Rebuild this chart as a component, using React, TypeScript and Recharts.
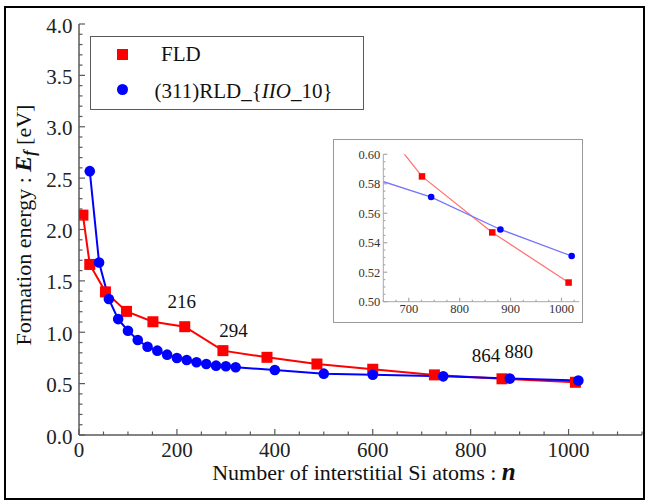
import React from 'react';
import { LineChart, Line, XAxis, YAxis, Legend, ReferenceDot, Label } from 'recharts';

// ---------- data ----------
const fldN = [8, 22, 54, 97, 151, 216, 294, 384, 486, 600, 726, 864, 1014];
const fldE = [2.14, 1.66, 1.393, 1.203, 1.102, 1.054, 0.821, 0.756, 0.691, 0.64, 0.585, 0.547, 0.513];
const rldN = [22, 41, 61, 80, 100, 120, 140, 160, 180, 200, 220, 240, 260, 280, 300, 320, 400, 500, 600, 744, 880, 1020];
const rldE = [2.568, 1.679, 1.323, 1.128, 1.015, 0.924, 0.859, 0.821, 0.782, 0.75, 0.73, 0.708, 0.691, 0.675, 0.669, 0.659, 0.633, 0.597, 0.587, 0.571, 0.549, 0.531];

const annotN = [216, 294, 864, 880];
const annotE = [1.054, 0.821, 0.547, 0.549];
const annotText = ['216', '294', '864', '880'];

const xMajor = [0, 200, 400, 600, 800, 1000];
const yMajor = [0, 0.5, 1, 1.5, 2, 2.5, 3, 3.5, 4];
const insetXMajor = [700, 800, 900, 1000];
const insetYMajor = [0.5, 0.52, 0.54, 0.56, 0.58, 0.6];

const fldData = fldN.map((n, i) => ({ n, e: fldE[i] }));
const rldData = rldN.map((n, i) => ({ n, e: rldE[i] }));

// ---------- styles ----------
const SERIF = '"Liberation Serif", "DejaVu Serif", serif';
const FRAME = '#5a5a5a';
const INSET_FRAME = '#a8a8a8';
const annotOffset: Record<string, [number, number]> = {
  '216': [-3, -18.5],
  '294': [10.5, -14],
  '864': [-16, -17],
  '880': [9, -21],
};

const steps = (a: number, b: number, s: number) => {
  const out: number[] = [];
  for (let v = a; v <= b + 1e-9; v += s) out.push(Math.round(v * 1e6) / 1e6);
  return out;
};
const isMajor = (v: number, majors: number[]) => majors.some((m) => Math.abs(m - v) < 1e-6);

const xTicks = steps(0, 1150, 50);
const yTicks = steps(0, 4, 0.1);
const insetXTicks = steps(650, 1035, 25).filter((v) => v >= 650);
const insetYTicks = steps(0.5, 0.6, 0.005);

type TickOpts = {
  side: 'left' | 'right' | 'top' | 'bottom';
  majors: number[];
  fmt?: (v: number) => string;
  major: number;
  minor: number;
  color: string;
  fontSize: number;
  textColor: string;
  labelGap: number;
  labelDy: number;
  label: boolean;
};

const makeTick = (o: TickOpts) => (props: any) => {
  const { x, y, payload } = props;
  const v = payload.value as number;
  const mj = isMajor(v, o.majors);
  const len = mj ? o.major : o.minor;
  let line;
  if (o.side === 'left') line = <line x1={x} x2={x + len} y1={y} y2={y} />;
  else if (o.side === 'right') line = <line x1={x} x2={x - len} y1={y} y2={y} />;
  else if (o.side === 'bottom') line = <line x1={x} x2={x} y1={y} y2={y - len} />;
  else line = <line x1={x} x2={x} y1={y} y2={y + len} />;
  let text = null;
  if (o.label && mj && o.fmt) {
    if (o.side === 'left')
      text = (
        <text x={x - o.labelGap} y={y + o.labelDy} textAnchor="end" fontFamily={SERIF} fontSize={o.fontSize} fill={o.textColor}>
          {o.fmt(v)}
        </text>
      );
    else if (o.side === 'bottom')
      text = (
        <text x={x} y={y + o.labelDy} textAnchor="middle" fontFamily={SERIF} fontSize={o.fontSize} fill={o.textColor}>
          {o.fmt(v)}
        </text>
      );
  }
  return (
    <g>
      <g stroke={o.color} strokeWidth={1.2}>{line}</g>
      {text}
    </g>
  );
};

const mainTickBase = { major: 6, minor: 3.5, color: FRAME, fontSize: 21, textColor: '#222', labelGap: 6.5, label: true };
const bottomTick = makeTick({ ...mainTickBase, side: 'bottom', majors: xMajor, fmt: (v) => String(v), labelDy: 22 });
const topTick = makeTick({ ...mainTickBase, side: 'top', majors: xMajor, labelDy: 0, label: false });
const leftTick = makeTick({ ...mainTickBase, side: 'left', majors: yMajor, fmt: (v) => v.toFixed(1), labelDy: 8.5 });
const rightTick = makeTick({ ...mainTickBase, side: 'right', majors: yMajor, labelDy: 0, label: false });

const insetBase = { major: 4, minor: 2, color: INSET_FRAME, fontSize: 12.5, textColor: '#333', labelGap: 3, label: true };
const insetBottom = makeTick({ ...insetBase, side: 'bottom', majors: insetXMajor, fmt: (v) => String(v), labelDy: 11.5 });
const insetTop = makeTick({ ...insetBase, side: 'top', majors: insetXMajor, labelDy: 0, label: false });
const insetLeft = makeTick({ ...insetBase, side: 'left', majors: insetYMajor, fmt: (v) => v.toFixed(2), labelDy: 4.5 });
const insetRight = makeTick({ ...insetBase, side: 'right', majors: insetYMajor, labelDy: 0, label: false });

const squareDot = (size: number, fill: string) => (p: any) => {
  if (p.cx == null || p.cy == null) return <g key={p.key} />;
  return <rect key={p.key} x={p.cx - size / 2} y={p.cy - size / 2} width={size} height={size} fill={fill} />;
};
const circleDot = (r: number, fill: string) => (p: any) => {
  if (p.cx == null || p.cy == null) return <g key={p.key} />;
  return <circle key={p.key} cx={p.cx} cy={p.cy} r={r} fill={fill} />;
};

const LegendBox = () => (
  <div style={{ width: 274, height: 74, border: `1.5px solid ${FRAME}`, boxSizing: 'border-box', background: '#fff' }}>
    <svg width={271} height={71} style={{ display: 'block' }}>
      <rect x={31.5 - 5.5} y={17.5 - 5.5} width={11} height={11} fill="#ff0000" />
      <text x={70} y={24} fontFamily={SERIF} fontSize={21} fill="#111">FLD</text>
      <circle cx={31.5} cy={52.5} r={5.5} fill="#0000ff" />
      <text x={63.5} y={60.5} fontFamily={SERIF} fontSize={21} fill="#111">
        (311)RLD_{'{'}
        <tspan fontStyle="italic">IIO</tspan>_10{'}'}
      </text>
    </svg>
  </div>
);

const YLabel = (props: any) => {
  const cx = 31;
  const cy = 225;
  return (
    <text transform={`translate(${cx},${cy}) rotate(-90)`} textAnchor="middle" fontFamily={SERIF} fontSize={22} fill="#111">
      Formation energy : <tspan fontWeight="bold" fontStyle="italic" fontSize={24}>E</tspan>
      <tspan fontStyle="italic" fontWeight="bold" fontSize={16} dy={4}>f</tspan>
      <tspan dy={-4}> [eV]</tspan>
    </text>
  );
};

const XLabel = (props: any) => (
  <text x={364} y={480} textAnchor="middle" fontFamily={SERIF} fontSize={22} fill="#111">
    Number of interstitial Si atoms : <tspan fontWeight="bold" fontStyle="italic" fontSize={25}>n</tspan>
  </text>
);

const annotLabel = (t: string) => (p: any) => {
  const vb = p.viewBox || {};
  const [dx, dy] = annotOffset[t];
  return (
    <text x={vb.x + dx} y={vb.y + dy} textAnchor="middle" fontFamily={SERIF} fontSize={19} fill="#111">
      {t}
    </text>
  );
};

export default function App() {
  return (
    <div style={{ position: 'absolute', left: 0, top: 0, width: 649, height: 504, background: '#fff' }}>
      <LineChart width={649} height={504} margin={{ top: 24, right: 7, left: 19, bottom: 39 }}>
        <XAxis
          xAxisId={0}
          type="number"
          dataKey="n"
          domain={[0, 1150]}
          ticks={xTicks}
          interval={0}
          tickSize={0}
          tickMargin={0}
          tick={bottomTick}
          axisLine={{ stroke: FRAME, strokeWidth: 1.5 }}
          height={30}
          allowDataOverflow
        >
          <Label content={XLabel} />
        </XAxis>
        <XAxis
          xAxisId="top"
          orientation="top"
          type="number"
          dataKey="n"
          domain={[0, 1150]}
          ticks={xTicks}
          interval={0}
          tickSize={0}
          tickMargin={0}
          tick={topTick}
          axisLine={{ stroke: FRAME, strokeWidth: 1.5 }}
          height={0}
          allowDataOverflow
        />
        <YAxis
          yAxisId={0}
          type="number"
          domain={[0, 4]}
          ticks={yTicks}
          interval={0}
          tickSize={0}
          tickMargin={0}
          tick={leftTick}
          axisLine={{ stroke: FRAME, strokeWidth: 1.5 }}
          width={60}
          allowDataOverflow
        >
          <Label content={YLabel} />
        </YAxis>
        <YAxis
          yAxisId="right"
          orientation="right"
          type="number"
          domain={[0, 4]}
          ticks={yTicks}
          interval={0}
          tickSize={0}
          tickMargin={0}
          tick={rightTick}
          axisLine={{ stroke: FRAME, strokeWidth: 1.5 }}
          width={0}
          allowDataOverflow
        />
        <Legend
          layout="horizontal"
          verticalAlign="middle"
          align="center"
          content={LegendBox}
          wrapperStyle={{ left: 90, top: 36, width: 274, height: 74, margin: 0 }}
        />
        <Line
          data={fldData}
          dataKey="e"
          name="FLD"
          stroke="#ff0000"
          strokeWidth={2}
          dot={squareDot(11, '#ff0000')}
          isAnimationActive={false}
        />
        <Line
          data={rldData}
          dataKey="e"
          name="(311)RLD_{IIO_10}"
          stroke="#0000ff"
          strokeWidth={2}
          dot={circleDot(5.3, '#0000ff')}
          isAnimationActive={false}
        />
        {annotText.map((t, i) => (
          <ReferenceDot key={t} x={annotN[i]} y={annotE[i]} r={0} fill="none" stroke="none" label={annotLabel(t)} />
        ))}
      </LineChart>

      {/* inset */}
      <div
        style={{
          position: 'absolute',
          left: 333,
          top: 139,
          width: 250,
          height: 184,
          border: '1px solid #999',
          boxSizing: 'border-box',
          background: '#fff',
        }}
      >
        <LineChart width={248} height={182} margin={{ top: 14.3, right: 2.7, left: 4.3, bottom: 4.3 }}>
          <XAxis
            type="number"
            dataKey="n"
            domain={[650, 1035]}
            ticks={insetXTicks}
            interval={0}
            tickSize={0}
            tickMargin={0}
            tick={insetBottom}
            axisLine={{ stroke: INSET_FRAME, strokeWidth: 1 }}
            height={16}
            allowDataOverflow
          />
          <XAxis
            xAxisId="top"
            orientation="top"
            type="number"
            domain={[650, 1035]}
            ticks={insetXTicks}
            interval={0}
            tickSize={0}
            tickMargin={0}
            tick={insetTop}
            axisLine={{ stroke: INSET_FRAME, strokeWidth: 1 }}
            height={0}
            allowDataOverflow
          />
          <YAxis
            type="number"
            domain={[0.5, 0.6]}
            ticks={insetYTicks}
            interval={0}
            tickSize={0}
            tickMargin={0}
            tick={insetLeft}
            axisLine={{ stroke: INSET_FRAME, strokeWidth: 1 }}
            width={45}
            allowDataOverflow
          />
          <YAxis
            yAxisId="right"
            orientation="right"
            type="number"
            domain={[0.5, 0.6]}
            ticks={insetYTicks}
            interval={0}
            tickSize={0}
            tickMargin={0}
            tick={insetRight}
            axisLine={{ stroke: INSET_FRAME, strokeWidth: 1 }}
            width={0}
            allowDataOverflow
          />
          <Line data={fldData} dataKey="e" stroke="#ff7474" strokeWidth={1.3} dot={squareDot(6.5, '#ff0000')} isAnimationActive={false} />
          <Line data={rldData} dataKey="e" stroke="#7474ff" strokeWidth={1.3} dot={circleDot(3.3, '#0000ff')} isAnimationActive={false} />
        </LineChart>
      </div>

      {/* outer frame */}
      <div
        style={{
          position: 'absolute',
          left: 4,
          top: 6,
          width: 641,
          height: 494,
          border: '2px solid #000',
          boxSizing: 'border-box',
          pointerEvents: 'none',
        }}
      />
    </div>
  );
}
